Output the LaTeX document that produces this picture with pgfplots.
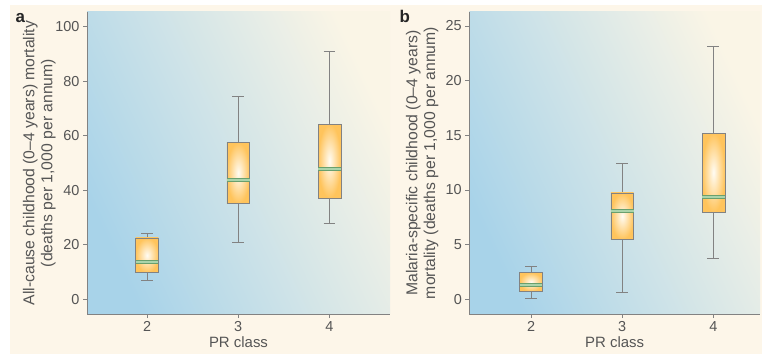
\documentclass[border=0pt]{standalone}
\usepackage{pgfplots}
\pgfplotsset{compat=1.18}
\usepgfplotslibrary{statistics}
\usepackage{fontspec}
\setmainfont{Liberation Sans}
\definecolor{cream}{RGB}{253,246,233}
\definecolor{bgblue}{RGB}{168,211,233}
\definecolor{bglight}{RGB}{250,245,230}
\definecolor{boxorange}{RGB}{255,196,92}
\definecolor{boxinner}{RGB}{255,252,244}
\definecolor{medgreen}{RGB}{105,160,110}
\definecolor{medlight}{RGB}{170,212,170}
\definecolor{axgray}{RGB}{130,130,130}
\definecolor{txtgray}{RGB}{85,85,85}
\pgfplotsset{
  panel/.style={
    scale only axis,
    anchor=south west,
    height=302bp,
    axis x line*=bottom,
    axis y line*=left,
    axis line style={axgray, line width=0.8pt},
    tick style={axgray, line width=0.6pt},
    tick align=outside,
    major tick length=4bp,
    xtick={2,3,4},
    /pgf/number format/assume math mode=true,
    ticklabel style={font=\fontsize{14.5}{17}\selectfont, text=txtgray},
    xlabel style={font=\fontsize{15}{18}\selectfont, text=txtgray, yshift=2bp},
    ylabel style={font=\fontsize{15.8}{18}\selectfont, text=txtgray},
    xlabel={PR class},
    axis background/.style={top color=bglight, bottom color=bgblue, shading angle=-65},
    clip=false,
    boxplot/draw direction=y,
    boxplot/every box/.style={draw=axgray, line width=0.6pt, inner color=boxinner, outer color=boxorange},
    boxplot/every whisker/.style={draw=axgray, line width=0.8pt},
    boxplot/every median/.style={draw=medgreen, double=medlight, double distance=2.2bp, line width=0.8bp},
    boxplot/box extend=0.25,
    boxplot/whisker extend=0.13,
  },
}
\begin{document}
\begin{tikzpicture}
\fill[white] (0,0) rectangle (763bp,358bp);
\fill[cream] (10bp,4bp) rectangle (762bp,353bp);
\node[anchor=base west, font=\fontsize{17}{20}\selectfont\bfseries, text=black!85] at (12bp,335bp) {a};
\node[anchor=base west, font=\fontsize{17}{20}\selectfont\bfseries, text=black!85] at (396bp,335bp) {b};
\begin{axis}[panel,
  at={(87bp,44bp)}, width=303bp,
  xmin=1.342, xmax=4.664, ymin=-5.4, ymax=105.4,
  ytick={0,20,40,60,80,100},
  ylabel={All-cause childhood (0--4 years) mortality\\(deaths per 1,000 per annum)},
  ylabel style={align=center, at={(axis description cs:-0.092,0.5)}, anchor=south},
]
\addplot[boxplot prepared={draw position=2, lower whisker=7.1, lower quartile=9.8, median=13.7, upper quartile=22.5, upper whisker=24.0}] coordinates {};
\addplot[boxplot prepared={draw position=3, lower whisker=20.8, lower quartile=35.2, median=43.8, upper quartile=57.5, upper whisker=74.6}] coordinates {};
\addplot[boxplot prepared={draw position=4, lower whisker=27.9, lower quartile=37.2, median=47.7, upper quartile=64.3, upper whisker=91.0}] coordinates {};
\end{axis}
\begin{axis}[panel,
  at={(469.3bp,44bp)}, width=290.7bp,
  xmin=1.323, xmax=4.511, ymin=-1.345, ymax=26.28,
  ytick={0,5,10,15,20,25},
  ylabel={Malaria-specific childhood (0--4 years)\\mortality (deaths per 1,000 per annum)},
  ylabel style={align=center, at={(axis description cs:-0.094,0.5)}, anchor=south},
]
\addplot[boxplot prepared={draw position=2, lower whisker=0.09, lower quartile=0.73, median=1.31, upper quartile=2.44, upper whisker=2.99}] coordinates {};
\addplot[boxplot prepared={draw position=3, lower whisker=0.61, lower quartile=5.49, median=8.08, upper quartile=9.73, upper whisker=12.47}] coordinates {};
\addplot[boxplot prepared={draw position=4, lower whisker=3.75, lower quartile=7.99, median=9.39, upper quartile=15.21, upper whisker=23.14}] coordinates {};
\end{axis}
\end{tikzpicture}
\end{document}
